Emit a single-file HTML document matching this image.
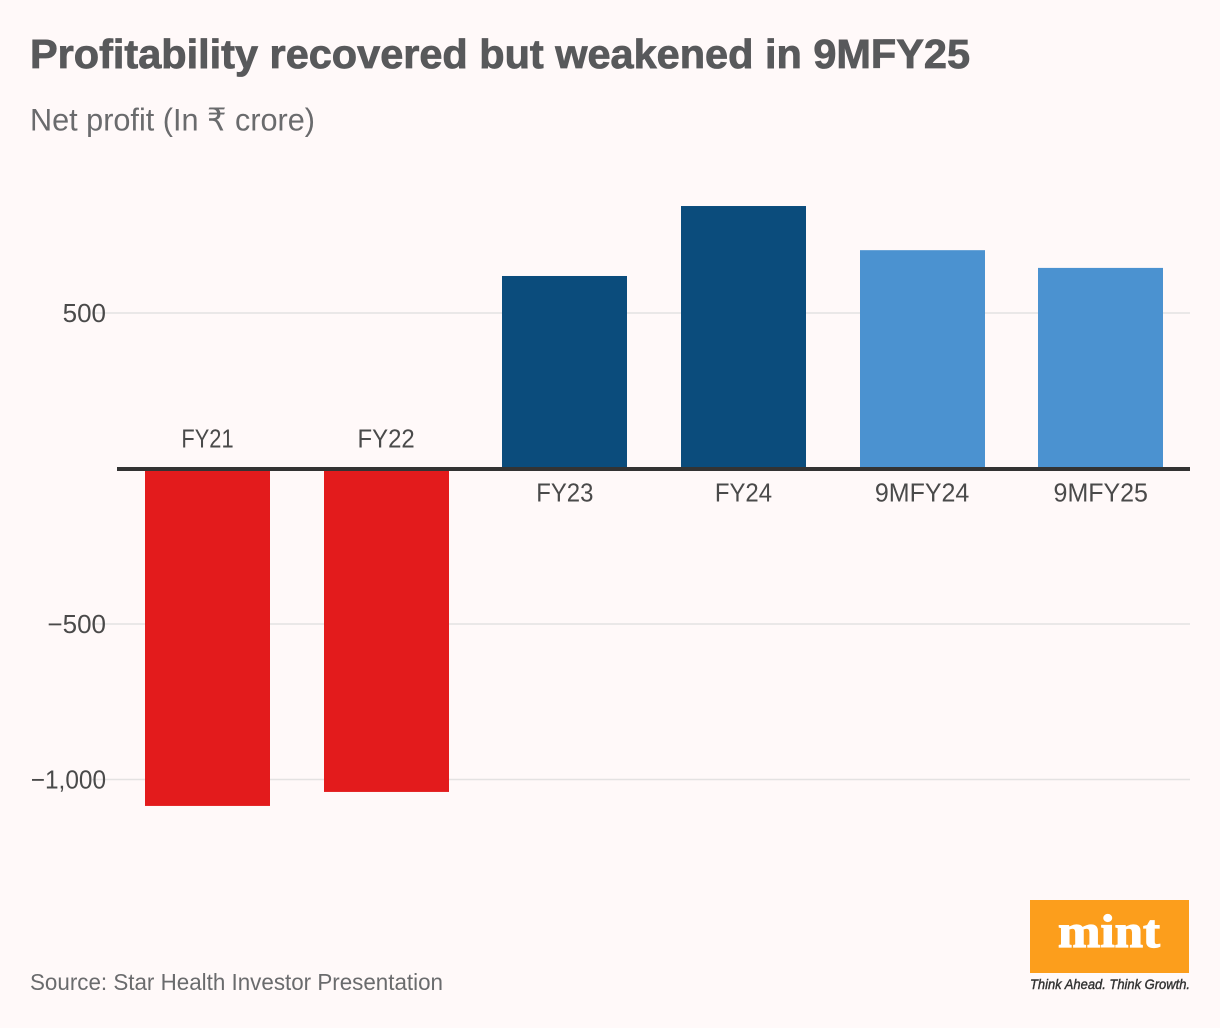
<!DOCTYPE html>
<html lang="en">
<head>
<meta charset="utf-8">
<title>Profitability recovered but weakened in 9MFY25</title>
<style>
html,body{margin:0;padding:0;background:#fff9f9;}
body{width:1220px;height:1028px;overflow:hidden;font-family:"Liberation Sans","DejaVu Sans",sans-serif;}
svg{display:block;}
text{font-family:"Liberation Sans","DejaVu Sans",sans-serif;}
</style>
</head>
<body>
<svg id="chart" width="1220" height="1028" viewBox="0 0 1220 1028" xmlns="http://www.w3.org/2000/svg">
  <rect width="1220" height="1028" fill="#fff9f9"/>
  <text x="30" y="68" font-size="41" font-weight="700" fill="#58595b" stroke="#58595b" stroke-width="0.8" textLength="940" lengthAdjust="spacingAndGlyphs">Profitability recovered but weakened in 9MFY25</text>
  <text x="30" y="130.5" font-size="31.5" fill="#6a6b6d" textLength="285" lengthAdjust="spacingAndGlyphs">Net profit (In ₹ crore)</text>
  <g id="grid"></g>
  <g id="bars"></g>
  <rect x="117" y="467" width="1073" height="4" fill="#333333"/>
  <g id="labels"></g>
  <text x="30" y="990" font-size="23" fill="#6a6b6d" textLength="413" lengthAdjust="spacingAndGlyphs">Source: Star Health Investor Presentation</text>
  <g>
    <rect x="1030" y="900" width="159" height="73" fill="#fc9e1c"/>
    <text x="1109" y="947" font-size="47" font-weight="700" fill="#ffffff" text-anchor="middle" style="font-family:'Liberation Serif',serif" stroke="#ffffff" stroke-width="1.2" textLength="102" lengthAdjust="spacingAndGlyphs">mint</text>
    <text x="1030" y="989" font-size="13.5" font-style="italic" fill="#333333" stroke="#333333" stroke-width="0.4" textLength="160" lengthAdjust="spacingAndGlyphs">Think Ahead. Think Growth.</text>
  </g>
</svg>
<script>
const categories = ['FY21', 'FY22', 'FY23', 'FY24', '9MFY24', '9MFY25'];
const profitValues = [-1085, -1040, 619, 844, 702, 645];
const barKinds = ['loss', 'loss', 'full', 'full', 'nine', 'nine'];
const yTickValues = [500, -500, -1000];
const yTickLabels = ['500', '−500', '−1,000'];

const kindColors = { loss: '#e31b1c', full: '#0b4c7c', nine: '#4b92d0' };
const NS = 'http://www.w3.org/2000/svg';
const yScale = v => 468.5 - v * 0.311;
const xCenter = i => 207.5 + i * 178.65;
const BAR_WIDTH = 125;

const gridLayer = document.getElementById('grid');
const barLayer = document.getElementById('bars');
const labelLayer = document.getElementById('labels');

function addText(parent, x, y, str, anchor, size, fill) {
  const t = document.createElementNS(NS, 'text');
  t.setAttribute('x', x);
  t.setAttribute('y', y);
  t.setAttribute('text-anchor', anchor);
  t.setAttribute('font-size', size);
  t.setAttribute('fill', fill);
  t.textContent = str;
  parent.appendChild(t);
  return t;
}

function fitWidth(t, scale) {
  const s = t.textContent;
  const narrowOne = s.includes('1') ? 5 : 0;
  const wideM = s.includes('M') ? 4 : 0;
  t.setAttribute('textLength', t.getComputedTextLength() * scale - narrowOne + wideM);
  t.setAttribute('lengthAdjust', 'spacingAndGlyphs');
}

yTickValues.forEach((v, i) => {
  const y = yScale(v);
  const line = document.createElementNS(NS, 'line');
  
  
  line.setAttribute('x1', 92);
  line.setAttribute('x2', 1190);
  line.setAttribute('y1', y);
  line.setAttribute('y2', y);
  line.setAttribute('stroke', '#e4e2e2');
  line.setAttribute('stroke-width', 1.5);
  gridLayer.appendChild(line);
  const label = addText(labelLayer, 106, y + 9, yTickLabels[i], 'end', 26, '#4a4a4a');
  
  
  fitWidth(label, 1);
});

categories.forEach((cat, i) => {
  const v = profitValues[i];
  const y0 = yScale(0);
  const yv = yScale(v);
  const bar = document.createElementNS(NS, 'rect');
  
  
  bar.setAttribute('x', Math.round(xCenter(i) - BAR_WIDTH / 2));
  bar.setAttribute('width', BAR_WIDTH);
  bar.setAttribute('y', Math.min(y0, yv));
  bar.setAttribute('height', Math.abs(yv - y0));
  bar.setAttribute('fill', kindColors[barKinds[i]]);
  barLayer.appendChild(bar);
  const labelY = v < 0 ? y0 - 21 : y0 + 33;
  const label = addText(labelLayer, xCenter(i), labelY, cat, 'middle', 26, '#4a4a4a');
  
  
  fitWidth(label, 0.92);
});
</script>
</body>
</html>
